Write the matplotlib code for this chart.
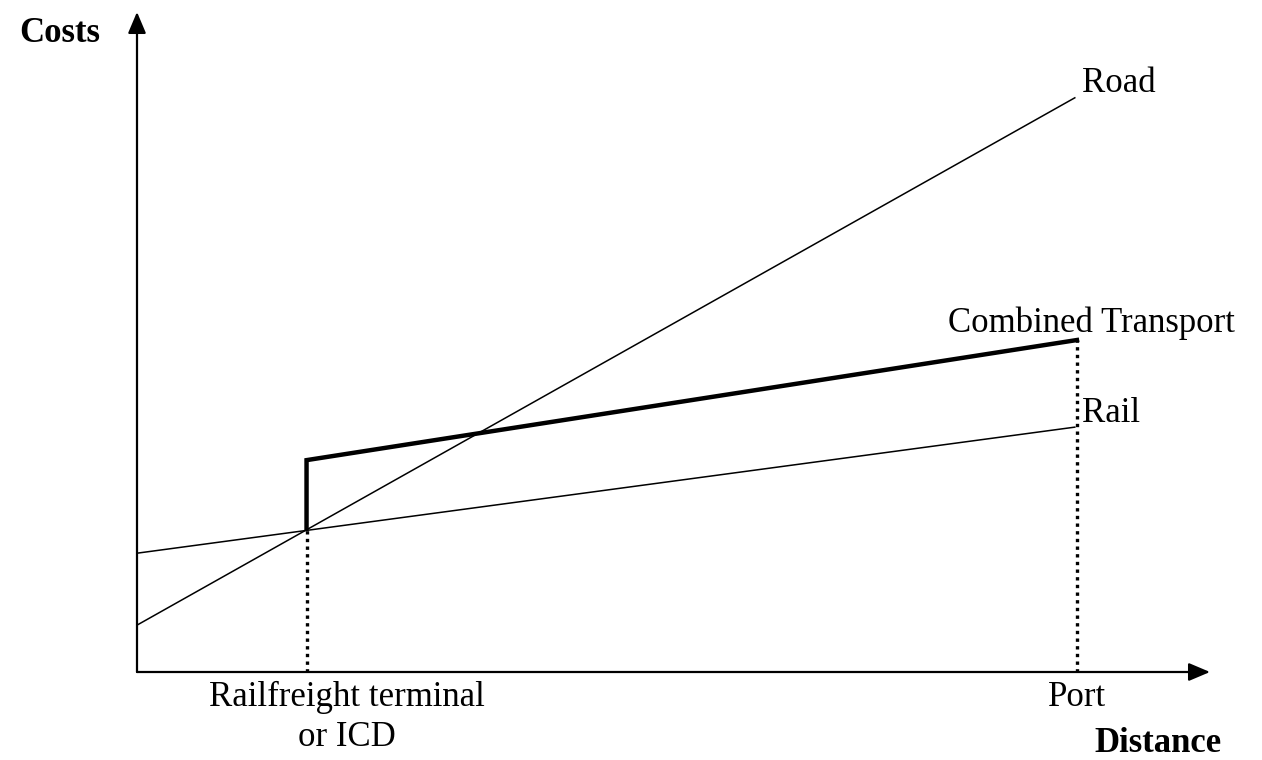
import matplotlib
matplotlib.use("Agg")
import matplotlib.pyplot as plt

# estimated values (axes run 0..100 both ways)
road_x = [0, 87.4]
road_y = [7.1, 87.0]
rail_x = [0, 87.4]
rail_y = [18.0, 37.1]
combined_x = [15.8, 15.8, 87.6]
combined_y = [21.8, 32.1, 50.3]
terminal_x = 15.8
port_x = 87.6

plt.rcParams['font.family'] = ['Liberation Serif', 'DejaVu Serif']

fig = plt.figure(figsize=(12.62, 7.60), dpi=100)
ax = fig.add_axes([137 / 1262, 88 / 760, 1073 / 1262, 660 / 760])
ax.set_xlim(0, 100)
ax.set_ylim(0, 100)
ax.axis('off')

# axes with arrow heads
arrow = dict(arrowstyle='-|>,head_length=1.3,head_width=0.55', color='black',
             lw=1.6, shrinkA=0, shrinkB=0)
ax.annotate('', xy=(0, 1.0), xytext=(0, 0), xycoords='axes fraction', arrowprops=arrow)
ax.annotate('', xy=(1.0, 0), xytext=(0, 0), xycoords='axes fraction', arrowprops=arrow)

ax.plot(road_x, road_y, color='black', lw=1.1, clip_on=False)
ax.plot(rail_x, rail_y, color='black', lw=1.1, clip_on=False)
ax.plot(combined_x, combined_y, color='black', lw=3.2, solid_joinstyle='miter',
        clip_on=False)

# dotted guides down to the distance axis
ax.plot([terminal_x, terminal_x], [0, combined_y[0]], color='black', lw=2.4,
        linestyle=(0, (1, 1.3)))
ax.plot([port_x, port_x], [0, combined_y[-1]], color='black', lw=2.4,
        linestyle=(0, (1, 1.3)))

fs = 25
ax.text(88.1, 89.2, 'Road', fontsize=fs, va='center', ha='left')
ax.text(75.6, 52.8, 'Combined Transport', fontsize=fs, va='center', ha='left')
ax.text(88.1, 39.2, 'Rail', fontsize=fs, va='center', ha='left')
ax.text(port_x, -3.9, 'Port', fontsize=fs, va='center', ha='center')
ax.text(19.6, -6.9, 'Railfreight terminal\nor ICD', fontsize=fs, va='center',
        ha='center', linespacing=1.25)
ax.text(-3.4, 96.8, 'Costs', fontsize=25, fontweight='bold', va='center', ha='right')
ax.text(101.1, -10.9, 'Distance', fontsize=25, fontweight='bold', va='center',
        ha='right')

fig.savefig('out.png', dpi=100)
